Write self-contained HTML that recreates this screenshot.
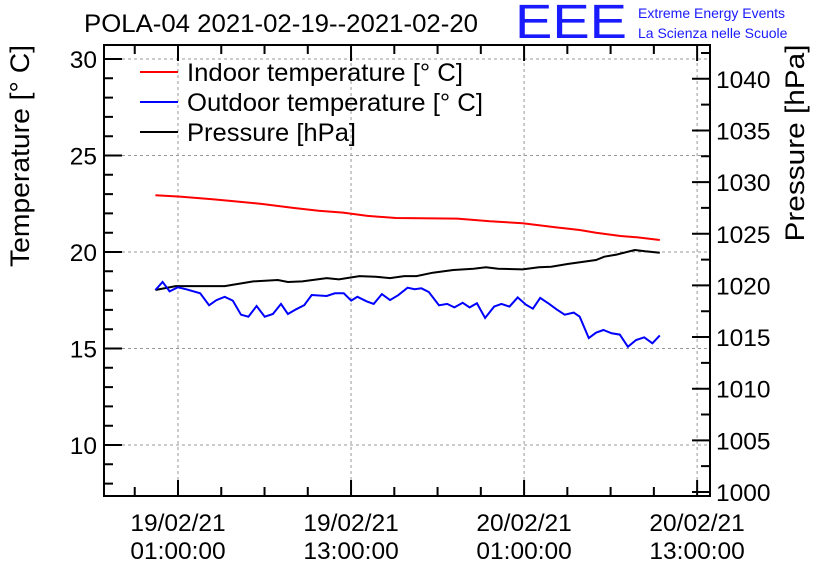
<!DOCTYPE html>
<html><head><meta charset="utf-8"><style>
body{margin:0;background:#fff}
svg{display:block;font-family:"Liberation Sans",sans-serif}
</style></head><body>
<svg id="chart" width="836" height="572" viewBox="0 0 836 572">
<rect width="836" height="572" fill="#fff"/>
<text x="84" y="32" font-size="25" textLength="394" lengthAdjust="spacingAndGlyphs">POLA-04 2021-02-19--2021-02-20</text>
<text x="515" y="38" font-size="48" fill="#1a1aff" textLength="112" lengthAdjust="spacingAndGlyphs">EEE</text>
<text x="638" y="18" font-size="14" fill="#1a1aff">Extreme Energy Events</text>
<text x="638" y="38" font-size="14" fill="#1a1aff">La Scienza nelle Scuole</text>
<g id="grid"></g>
<g id="axes"></g>
<g id="series"></g>
<text transform="translate(29,156) rotate(-90)" text-anchor="middle" font-size="27" textLength="222" lengthAdjust="spacingAndGlyphs">Temperature [° C]</text>
<text transform="translate(804,143) rotate(-90)" text-anchor="middle" font-size="27" textLength="197" lengthAdjust="spacingAndGlyphs">Pressure [hPa]</text>
<g>
<line x1="140" y1="72" x2="178" y2="72" stroke="#ff0000" stroke-width="2"/>
<text x="187" y="81" font-size="25" textLength="276" lengthAdjust="spacingAndGlyphs">Indoor temperature [° C]</text>
<line x1="140" y1="102" x2="178" y2="102" stroke="#0000ff" stroke-width="2"/>
<text x="187" y="111" font-size="25" textLength="296" lengthAdjust="spacingAndGlyphs">Outdoor temperature [° C]</text>
<line x1="140" y1="132" x2="178" y2="132" stroke="#000" stroke-width="2"/>
<text x="187" y="141" font-size="25" textLength="169" lengthAdjust="spacingAndGlyphs">Pressure [hPa]</text>
</g>
</svg>
<script>
// hours since 19/02/21 00:00
const xTickHours=[1,13,25,37];
const xTickDates=["19/02/21","19/02/21","20/02/21","20/02/21"];
const xTickTimes=["01:00:00","13:00:00","01:00:00","13:00:00"];
const yTicks=[10,15,20,25,30];
const y2Ticks=[1000,1005,1010,1015,1020,1025,1030,1035,1040];
const indoorHours=[-0.57,1.13,3.39,4.52,6.78,9.05,10.75,12.45,14.14,16.12,20.37,22.63,24.90,27.16,28.86,29.99,31.69,32.82,34.41];
const indoorTemp=[22.94,22.87,22.73,22.66,22.49,22.28,22.14,22.04,21.87,21.76,21.73,21.59,21.49,21.28,21.14,21.0,20.83,20.76,20.62];
const outdoorHours=[-0.57,-0.07,0.42,0.98,1.55,2.54,3.16,3.67,4.24,4.80,5.37,5.88,6.45,7.01,7.58,8.14,8.62,9.19,9.76,10.27,11.31,11.88,12.50,13.01,13.44,14.09,14.57,15.14,15.70,16.27,16.92,17.40,17.88,18.39,19.10,19.66,20.17,20.74,21.22,21.73,22.30,22.92,23.43,23.99,24.56,25.13,25.61,26.12,26.74,27.25,27.82,28.44,28.86,29.49,29.99,30.50,31.07,31.64,32.20,32.77,33.33,33.90,34.41];
const outdoorTemp=[18.03,18.45,17.96,18.17,18.07,17.86,17.24,17.51,17.68,17.48,16.75,16.65,17.20,16.65,16.79,17.31,16.79,17.03,17.25,17.77,17.72,17.86,17.86,17.48,17.68,17.44,17.31,17.82,17.51,17.76,18.15,18.07,18.12,17.93,17.24,17.31,17.13,17.37,17.13,17.34,16.58,17.17,17.31,17.17,17.65,17.27,17.06,17.62,17.31,17.03,16.75,16.86,16.65,15.54,15.82,15.96,15.79,15.72,15.09,15.44,15.58,15.27,15.68];
const pressureHours=[-0.57,0.84,4.24,6.22,7.92,8.62,9.62,11.31,12.16,13.58,14.71,15.70,16.69,17.54,18.67,20.09,21.50,22.35,23.20,24.90,26.03,26.88,28.01,29.99,30.56,31.41,32.68,33.39,34.41];
const pressureVal=[1019.55,1019.93,1019.93,1020.39,1020.52,1020.33,1020.39,1020.71,1020.58,1020.90,1020.84,1020.71,1020.90,1020.90,1021.23,1021.49,1021.62,1021.75,1021.62,1021.55,1021.75,1021.81,1022.07,1022.46,1022.78,1022.98,1023.43,1023.30,1023.17];

const L=104,R=710,T=45,B=496;
const xs=h=>178+(h-1)*14.42;
const ys=v=>252-(v-20)*19.3;
const y2s=p=>492-(p-1000)*10.33;
const NS="http://www.w3.org/2000/svg";
function mk(tag,attrs,parent){const e=document.createElementNS(NS,tag);for(const k in attrs)e.setAttribute(k,attrs[k]);parent.appendChild(e);return e;}
const grid=document.getElementById('grid'),axes=document.getElementById('axes'),series=document.getElementById('series');

xTickHours.forEach((h,i)=>{
  const x=xs(h);
  if(x<R){const g=mk('line',{x1:x,y1:T,x2:x,y2:B,stroke:'#999','stroke-dasharray':'3,3'},grid);
  
  }
  const t1=mk('text',{x:x,y:531,'text-anchor':'middle','font-size':24.5},axes);t1.textContent=xTickDates[i];
  
  
  const t2=mk('text',{x:x,y:559,'text-anchor':'middle','font-size':24.5},axes);t2.textContent=xTickTimes[i];
  
  
});
yTicks.forEach(v=>{
  const y=ys(v);
  const g=mk('line',{x1:L,y1:y,x2:R,y2:y,stroke:'#999','stroke-dasharray':'3,3'},grid);
  
  
  const t=mk('text',{x:97,y:y+9,'text-anchor':'end','font-size':24.5},axes);t.textContent=v;
  
  
});
y2Ticks.forEach(p=>{
  const y=y2s(p);
  const t=mk('text',{x:716,y:y+9,'font-size':24.5},axes);t.textContent=p;
  
  
});
let tk='';
for(let v=8;v<=30;v++){const y=ys(v);if(y<T||y>B)continue;tk+=`M${L},${y}h${v%5==0?18:9}`;}
for(let p=1000;p<=1042.5;p+=2.5){const y=y2s(p);if(y<T||y>B)continue;tk+=`M${R},${y}h-${p%5==0?18:9}`;}
for(let h=-2;h<=38;h+=3){const x=xs(h);if(x<L||x>R)continue;const len=((h-1)%12==0)?16:9;tk+=`M${x},${B}v-${len}M${x},${T}v${len}`;}
const ticks=mk('path',{d:tk,stroke:'#000','stroke-width':2,fill:'none'},axes);


const frame=mk('rect',{x:L,y:T,width:R-L,height:B-T,fill:'none',stroke:'#000','stroke-width':2},axes);



function line(hs,vs,sc,color,name){
  const d=hs.map((h,i)=>(i?'L':'M')+xs(h).toFixed(1)+','+sc(vs[i]).toFixed(1)).join('');
  const p=mk('path',{d:d,stroke:color,'stroke-width':2,fill:'none'},series);
  
  
}
line(indoorHours,indoorTemp,ys,'#ff0000','indoor-temperature-line');
line(pressureHours,pressureVal,y2s,'#000000','pressure-line');
line(outdoorHours,outdoorTemp,ys,'#0000ff','outdoor-temperature-line');
</script>
</body></html>
